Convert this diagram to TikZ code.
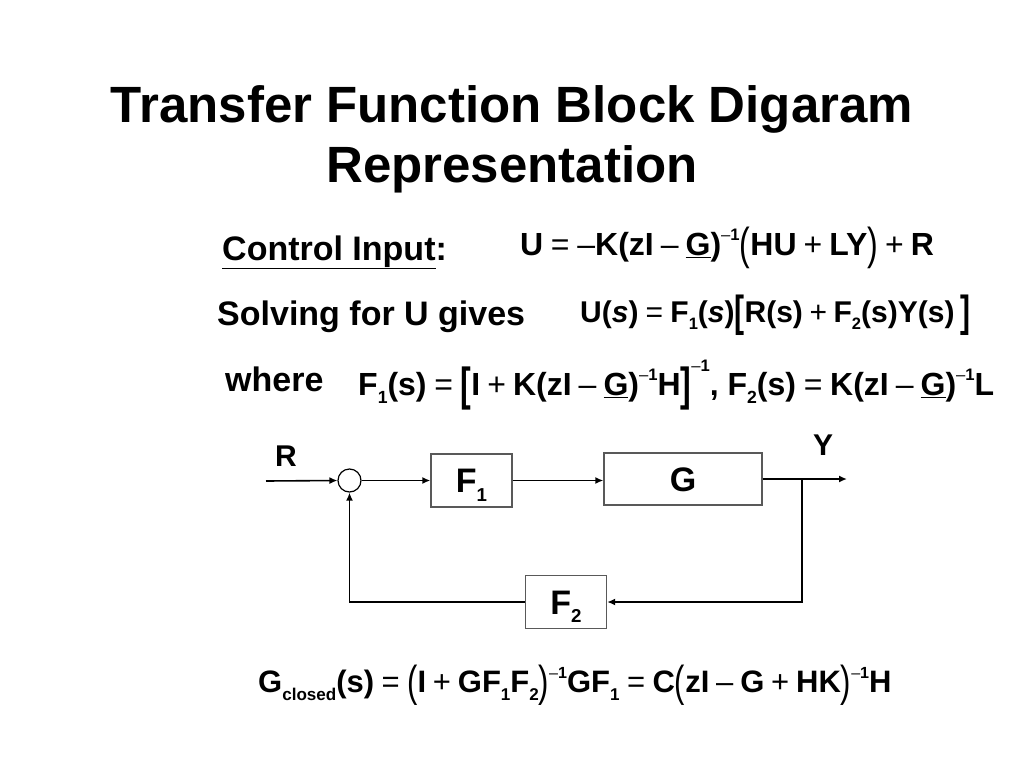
\documentclass[tikz,border=0pt]{standalone}
\usepackage{fontspec}
\setmainfont{Liberation Sans}
\usepackage{graphicx}
\usetikzlibrary{arrows.meta}

\newcommand\myeq{\hspace{0.24em}{\mdseries =}\hspace{0.24em}}
\newcommand\myplus{\hspace{0.22em}{\mdseries +}\hspace{0.22em}}
\newcommand\mymin{\hspace{0.22em}{\mdseries –}\hspace{0.22em}}
\newcommand\myneg{{\mdseries –}}
\newcommand\supx[1]{\raisebox{0.45em}{\scalebox{0.52}{#1}}}
\newcommand\subx[1]{\raisebox{-0.26em}{\scalebox{0.55}{#1}}}
\newcommand\bigp[1]{\raisebox{-0.14em}{\scalebox{1}[1.4]{\mdseries #1}}}
\newcommand\bigb[1]{\raisebox{-0.16em}{\scalebox{1}[1.45]{#1}}}
\newcommand\ital{\textit{s}}

\begin{document}
\begin{tikzpicture}[x=1pt,y=-1pt,
  title/.style={font=\fontsize{51}{60}\selectfont\bfseries, inner sep=0, anchor=base},
  txt/.style={font=\fontsize{34}{40}\selectfont\bfseries, inner sep=0, anchor=base west},
  eq/.style={font=\fontsize{32}{36}\selectfont\bfseries, inner sep=0, anchor=base west},
  lbl/.style={font=\fontsize{30}{36}\selectfont\bfseries, inner sep=0, anchor=base},
  blk/.style={draw=black!65, line width=1.3pt, inner sep=0, text height=24pt, text depth=0pt,
    font=\fontsize{34}{40}\selectfont\bfseries},
  sumc/.style={circle, draw, line width=1.2pt, minimum size=23pt, inner sep=0},
  conn/.style={line width=1.6pt, -{Latex[length=8pt,width=7pt]}},
  wire/.style={line width=1.6pt}
]
\useasboundingbox (0,0) rectangle (1024,768);
\fill[white] (0,0) rectangle (1024,768);

% title
\node[title] (t1) at (512,122) {Transfer Function Block Digaram};
\node[title] (t2) at (512,182) {Representation};

% text lines
\node[txt] (ci) at (222,260) {\underline{Control Input}:};
\node[txt] (sv) at (217,325) {Solving for U gives};
\node[txt] (wh) at (225,391) {where};

% equations
\node[eq] (e1) at (520,255) {U\myeq\myneg K(zI\mymin\underline{G})\supx{\myneg1}\bigp{(}HU\myplus LY\bigp{)}\myplus R};
\node[eq, font=\fontsize{30}{36}\selectfont\bfseries] (e2) at (580,322) {U(\ital)\myeq F\subx{1}(\ital)\bigb{[}R(s)\myplus F\subx{2}(s)Y(s)\hspace{0.2em}\bigb{]}};
\node[eq] (e3) at (358,395) {F\subx{1}(s)\myeq\bigb{[}I\myplus K(zI\mymin\underline{G})\supx{\myneg1}H\bigb{]}\raisebox{0.3em}{\supx{\myneg1}}, F\subx{2}(s)\myeq K(zI\mymin\underline{G})\supx{\myneg1}L};
\node[eq, font=\fontsize{31}{36}\selectfont\bfseries] (e4) at (258,692) {G\subx{closed}(s)\myeq\bigp{(}I\myplus GF\subx{1}F\subx{2}\bigp{)}\supx{\myneg1}GF\subx{1}\myeq C\bigp{(}zI\mymin G\myplus HK\bigp{)}\supx{\myneg1}H};

% block diagram
\coordinate (in) at (266,481);
\node[sumc] (sum) at (349.5,480.5) {};
\node[blk, minimum width=81pt, minimum height=53pt] (F1) at (471.5,480.5) {F\subx{1}};
\node[blk, minimum width=158pt, minimum height=52pt] (G) at (683,479) {G};
\node[blk, minimum width=81pt, minimum height=53pt] (F2) at (566,602) {F\subx{2}};
\coordinate (br) at (802,479);
\coordinate (out) at (847,479);
\node[lbl] (R) at (286,466) {R};
\node[lbl] (Y) at (823,455) {Y};

\draw[conn] (in) -- (sum.west);
\draw[conn] (sum.east) -- (F1.west);
\draw[conn] (F1.east) -- (G.west |- F1.east);
\draw[wire] (G.east |- br) -- (br);
\draw[conn] (br) -- (out);
\draw[conn] (br) |- (F2.east);
\draw[conn] (F2.west) -| (sum.south);
\end{tikzpicture}
\end{document}
